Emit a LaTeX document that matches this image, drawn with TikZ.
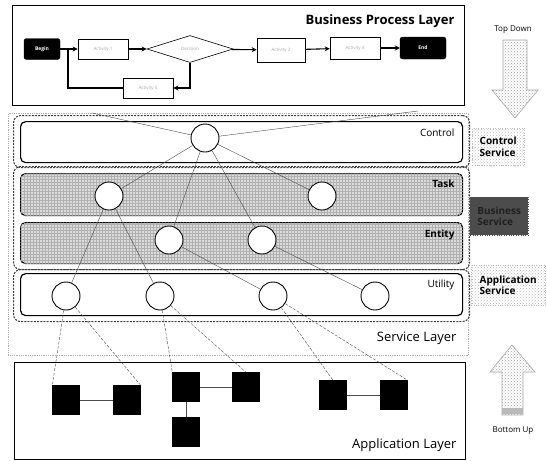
\documentclass[tikz,border=0pt]{standalone}
\usepackage{fontspec}
\setmainfont{Open Sans}
\usetikzlibrary{shapes.geometric,arrows.meta,patterns}
\tikzset{
  layerbox/.style={draw=black, line width=1.2pt},
  flowbox/.style={draw=black, line width=0.6pt, fill=white, minimum width=50pt, minimum height=20pt, inner sep=0pt, font=\fontsize{4.5}{5}\selectfont, text=gray!70},
  termbox/.style={draw=black, fill=black, rounded corners=2.5pt, minimum width=36pt, minimum height=21pt, inner sep=0pt, font=\fontsize{5}{6}\selectfont\bfseries, text=white},
  flowarrow/.style={-{Stealth[length=5pt,width=5pt]}, line width=1.1pt},
  svcbox/.style={draw=black, line width=1.2pt, rounded corners=5pt},
  patbox/.style={svcbox, fill=gray!28, postaction={pattern=grid, pattern color=gray!62}},
  svc/.style={circle, draw=black, line width=0.9pt, fill=white, minimum size=28pt, inner sep=0pt},
  link/.style={draw=gray!60!black, line width=0.4pt},
  applink/.style={draw=gray!60!black, line width=0.4pt, dash pattern=on 3pt off 1.5pt},
  appsq/.style={draw=black, fill=black, minimum width=27pt, minimum height=29pt, inner sep=0pt},
  group/.style={draw=gray!50!black, line width=1.1pt, dash pattern=on 2pt off 1.2pt, rounded corners=7pt},
  layertitle/.style={anchor=east, font=\fontsize{13}{15}\selectfont},
  inlabel/.style={anchor=east, font=\fontsize{10}{12}\selectfont},
  sidebox/.style={draw=gray!50, dotted, pattern=crosshatch dots, pattern color=gray!55, align=left, inner sep=2pt, font=\fontsize{10}{11.5}\selectfont\bfseries},
  bigarrow/.style={draw=gray!70, line width=0.6pt, pattern=crosshatch dots, pattern color=gray!70},
}
\begin{document}
\begin{tikzpicture}[x=1pt,y=-1pt]
\useasboundingbox (0,0) rectangle (547,461);

% ---------- Business Process Layer ----------
\node[layerbox, minimum width=452pt, minimum height=100pt, anchor=north west, inner sep=0pt] (bpl) at (12,5) {};
\node[layertitle, font=\fontsize{13}{15}\selectfont\bfseries] (bpltitle) at (458,21) {Business Process Layer};

\node[termbox] (begin) at (42,49) {Begin};
\node[flowbox] (act1) at (103,49) {Activity 1};
\node[diamond, draw=black, line width=0.6pt, aspect=3.3, minimum width=86pt, minimum height=27pt, inner sep=0pt, font=\fontsize{4.5}{5}\selectfont, text=gray!70] (dec) at (190,49) {Decision};
\node[flowbox, minimum width=48pt, minimum height=24pt] (act2) at (281,50) {Activity 2};
\node[flowbox, minimum height=22pt] (act4) at (355,48) {Activity 4};
\node[termbox, minimum width=46pt, minimum height=22pt] (end) at (423,48) {End};
\node[flowbox] (act5) at (148,88) {Activity 5};
\coordinate (jn) at (68,49);

\draw[flowarrow] (begin) -- (act1);
\draw[flowarrow] (act1) -- (dec);
\draw[flowarrow] (dec) -- (act2);
\draw[flowarrow] (act2) -- (act4);
\draw[flowarrow] (act4) -- (end);
\draw[flowarrow] (dec.south) |- (act5.east);
\draw[line width=1.1pt] (act5.west) -| (jn);

% ---------- Service Layer ----------
\node[draw=gray!60, densely dotted, line width=0.8pt, minimum width=460pt, minimum height=242pt, anchor=north west, inner sep=0pt] (svl) at (8,113) {};
\node[layertitle] (svltitle) at (460,338) {Service Layer};

% group outlines
\node[group, minimum width=456pt, minimum height=52pt, anchor=north west, inner sep=0pt] (gctrl) at (13,115) {};
\node[group, minimum width=456pt, minimum height=103pt, anchor=north west, inner sep=0pt] (gbiz) at (13,166) {};
\node[group, minimum width=456pt, minimum height=52pt, anchor=north west, inner sep=0pt] (gapp) at (13,269) {};

% inner service boxes
\node[svcbox, fill=white, minimum width=442pt, minimum height=41pt, anchor=north west, inner sep=0pt] (ctrl) at (20,121) {};
\node[patbox, minimum width=442pt, minimum height=42pt, anchor=north west, inner sep=0pt] (task) at (20,173) {};
\node[patbox, minimum width=442pt, minimum height=41pt, anchor=north west, inner sep=0pt] (entity) at (20,222) {};
\node[svcbox, fill=white, minimum width=442pt, minimum height=42pt, anchor=north west, inner sep=0pt] (util) at (20,273) {};

\node[inlabel] (ctrllab) at (458,133) {Control};
\node[inlabel, font=\fontsize{10}{12}\selectfont\bfseries] (tasklab) at (458,184) {Task};
\node[inlabel, font=\fontsize{10}{12}\selectfont\bfseries] (entlab) at (458,235) {Entity};
\node[inlabel] (utillab) at (458,285) {Utility};

% circles
\node[svc] (c0) at (205,138) {};
\node[svc] (t1) at (109,196) {};
\node[svc] (t2) at (322,196) {};
\node[svc] (e1) at (169,240) {};
\node[svc] (e2) at (262,240) {};
\node[svc] (u1) at (66,296) {};
\node[svc] (u2) at (160,296) {};
\node[svc] (u3) at (273,296) {};
\node[svc] (u4) at (375,296) {};

\coordinate (bpL) at (92,113);
\coordinate (bpR) at (418,111);

\draw[link] (c0) -- (bpL);
\draw[link] (c0) -- (bpR);
\draw[link] (c0) -- (t1);
\draw[link] (c0) -- (t2);
\draw[link] (c0) -- (e1);
\draw[link] (c0) -- (e2);
\draw[link] (t1) -- (u1);
\draw[link] (t1) -- (u2);
\draw[link] (e1) -- (u3);
\draw[link] (e2) -- (u4);

% ---------- Application Layer ----------
\node[layerbox, minimum width=451pt, minimum height=97pt, anchor=north west, inner sep=0pt] (apl) at (14,362) {};
\node[layertitle] (apltitle) at (460,445) {Application Layer};

\node[appsq] (s1) at (66,400) {};
\node[appsq] (s2) at (127,400) {};
\node[appsq] (s3) at (186,387) {};
\node[appsq] (s4) at (246,387) {};
\node[appsq] (s5) at (186,432) {};
\node[appsq] (s6) at (333,395) {};
\node[appsq] (s7) at (394,395) {};

\draw[link] (s1) -- (s2);
\draw[link] (s3) -- (s4);
\draw[link] (s3) -- (s5);
\draw[link] (s6) -- (s7);

\draw[applink] (u1) -- (s1.north west);
\draw[applink] (u1) -- (s2.north east);
\draw[applink] (u2) -- (s3.north west);
\draw[applink] (u2) -- (s4.north);
\draw[applink] (u3) -- (s6.north);
\draw[applink] (u3) -- (s7.north east);

% ---------- right side ----------
\node[font=\fontsize{8}{10}\selectfont] (topdown) at (513,30) {Top Down};
\draw[bigarrow] (503,40) -- (527,40) -- (527,90) -- (538,90) -- (515,118) -- (492,90) -- (503,90) -- cycle;

\node[sidebox, anchor=north west, minimum width=52pt, minimum height=37pt] (csvc) at (472,128) {Control\\Service};
\node[sidebox, anchor=north west, minimum width=58pt, minimum height=38pt, draw=gray!60!black, pattern color=gray!30!black, fill=gray!60!black, text=gray!25!black] (bsvc) at (470,197) {Business\\Service};
\node[sidebox, anchor=north west, minimum width=74pt, minimum height=40pt] (asvc) at (471,265) {Application\\Service};

\draw[bigarrow] (512,345) -- (535,372) -- (523,372) -- (523,415) -- (502,415) -- (502,372) -- (490,372) -- cycle;
\fill[gray!55] (502,408) rectangle (523,414);
\node[font=\fontsize{8}{10}\selectfont] (bottomup) at (513,431) {Bottom Up};
\end{tikzpicture}
\end{document}
